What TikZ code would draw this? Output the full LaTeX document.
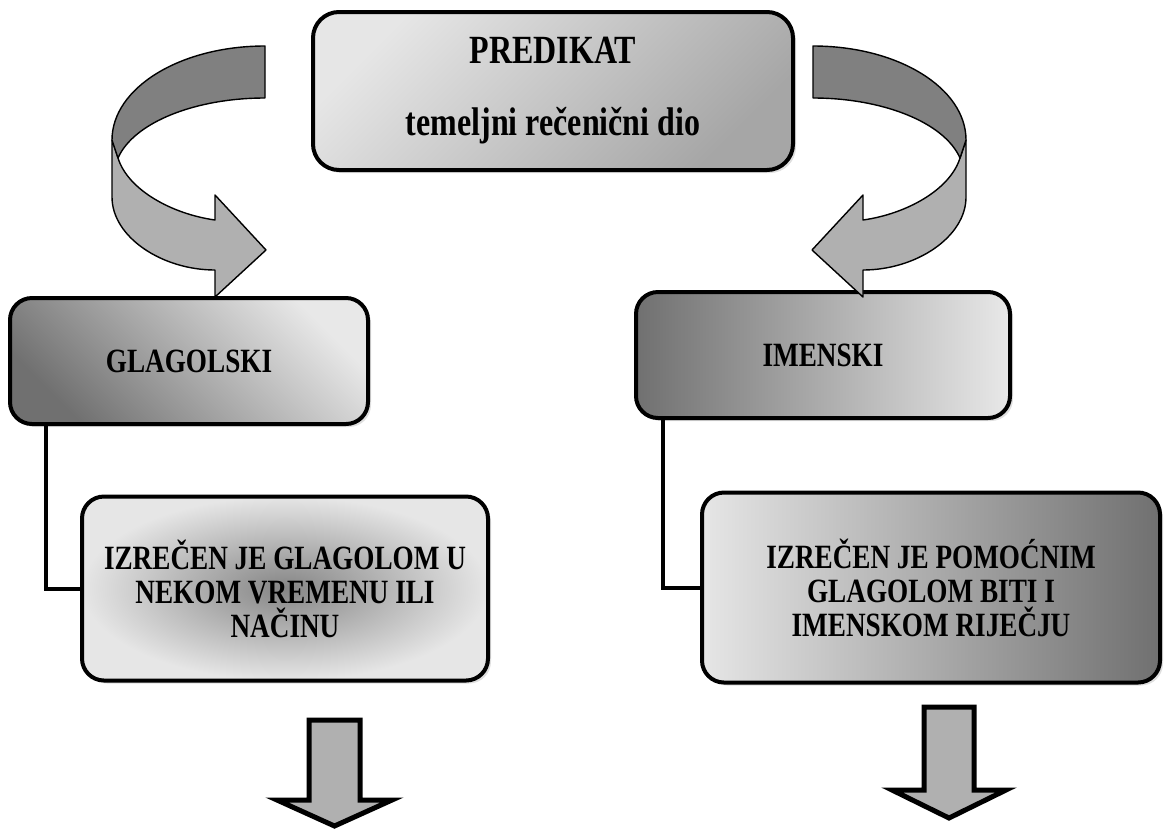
\documentclass[tikz,border=0pt]{standalone}
\usepackage{fontspec}
\setmainfont{Liberation Serif}[FakeStretch=0.8]
\usetikzlibrary{positioning,shadows}
\definecolor{ribdark}{HTML}{808080}
\definecolor{riblight}{HTML}{B0B0B0}
\definecolor{boxlight}{HTML}{E6E6E6}
\definecolor{boxdark}{HTML}{707070}
\tikzset{
  box/.style      = {shape=rectangle, rounded corners=11pt,
                     draw, line width=2pt, align=center,
                     font=\bfseries\fontsize{17}{17}\selectfont,
                     drop shadow={opacity=0.25, shadow xshift=1.5pt, shadow yshift=-1.5pt}},
  rootbox/.style  = {box, rounded corners=13pt, minimum width=240pt, minimum height=79pt,
                     font=\bfseries\fontsize{20}{24}\selectfont,
                     top color=boxlight, bottom color=gray!70, shading angle=45},
  kindbox/.style  = {box, minimum height=63pt},
  descbox/.style  = {box, minimum height=92pt},
  ribbon/.style   = {draw, line width=0.7pt, line join=round},
  blockarrow/.style = {draw, fill=riblight, line width=2.5pt, line join=miter},
  conn/.style     = {draw, line width=2pt},
}
\begin{document}
\begin{tikzpicture}[x=0.5pt, y=-0.5pt]
    \useasboundingbox (0,0) rectangle (1165,831);

    \node [rootbox] (pred) at (553,91) {PREDIKAT\\[12pt]temeljni rečenični dio};

    \node [kindbox, minimum width=179pt, top color=boxlight!90, bottom color=boxdark,
           shading angle=-45] (glag) at (189,361) {GLAGOLSKI};
    \node [kindbox, minimum width=187pt, left color=boxdark, right color=boxlight!90]
           (imen) at (823,355) {IMENSKI};

    \node [descbox, minimum width=203pt, inner color=boxdark!85, outer color=boxlight]
           (glagdesc) at (285,588.5) {IZREČEN JE GLAGOLOM U\\NEKOM VREMENU ILI\\NAČINU};
    \node [descbox, minimum width=229pt, minimum height=95pt, left color=boxlight,
           right color=boxdark] (imendesc) at (931,587.5)
           {IZREČEN JE POMOĆNIM\\GLAGOLOM BITI I\\IMENSKOM RIJEČJU};

    \draw [conn] ([xshift=19pt]glag.south west) |- (glagdesc.west);
    \draw [conn] ([xshift=14.5pt]imen.south west) |- (imendesc.west);

    % curved arrows
    \foreach \sx/\ox in {1/0, -1/1078} {
      \begin{scope}[shift={(\ox,0)}, xscale=\sx]
        \draw [ribbon, fill=riblight] (112,140) -- (112,197)
            .. controls (112,237) and (162,270) .. (215,270) -- (215,297) -- (266,250)
            -- (215,195) -- (215,220) .. controls (172,214) and (128,190) .. (118,158)
            -- cycle;
        \draw [ribbon, fill=ribdark] (265,46) .. controls (180,46) and (112,88) .. (112,140)
            -- (118,158) .. controls (134,122) and (196,98) .. (265,98) -- cycle;
      \end{scope}
    }

    \draw [blockarrow] (309,720) -- (360,720) -- (360,800) -- (392,800) -- (334.5,826)
        -- (277,800) -- (309,800) -- cycle;
    \draw [blockarrow] (924,707) -- (974,707) -- (974,790) -- (1006,790) -- (949,818)
        -- (892,790) -- (924,790) -- cycle;
\end{tikzpicture}
\end{document}
